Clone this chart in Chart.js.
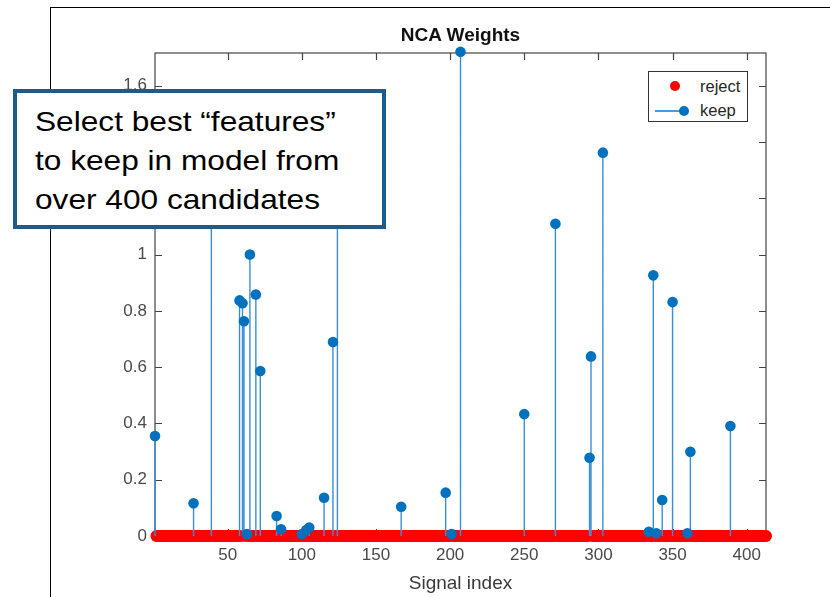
<!DOCTYPE html>
<html>
<head>
<meta charset="utf-8">
<script src="https://cdn.jsdelivr.net/npm/chart.js@4.4.1/dist/chart.umd.min.js"></script>
<style>
  html, body { margin: 0; padding: 0; background: #fff; }
  body { width: 830px; height: 597px; position: relative; overflow: hidden; font-family: 'Liberation Sans', Arial, sans-serif; }
  #frame { position: absolute; left: 50px; top: 7px; width: 800px; height: 620px; border-left: 1.5px solid #000; border-top: 1.5px solid #000; box-sizing: border-box; }
  #wrap { position: absolute; left: 0; top: 0; width: 830px; height: 597px; }
  #title { position: absolute; left: 300px; width: 321px; top: 23px; text-align: center; font-weight: bold; font-size: 19px; color: #111; line-height: 24px; }
  #legend { position: absolute; left: 648px; top: 71px; width: 100px; height: 51px; box-sizing: border-box; border: 1px solid #333; background: #fff; }
  .lg-row { position: absolute; left: 0; width: 100%; height: 20px; }
  .lg-dot { position: absolute; width: 10px; height: 10px; border-radius: 50%; }
  .lg-line { position: absolute; height: 1.5px; background: #4d9ad6; }
  .lg-text { position: absolute; left: 51px; font-size: 16.5px; line-height: 20px; color: #262626; }
  #note { position: absolute; left: 13px; top: 89px; width: 373px; height: 140px; box-sizing: border-box; border: 4px solid #1d5b8a; background: #fff; }
  #note .txt { position: absolute; left: 18px; top: 9px; font-size: 28px; line-height: 39px; color: #000; transform: scaleX(1.13); transform-origin: left top; white-space: nowrap; }
</style>
</head>
<body>
<div id="frame"></div>
<div id="wrap"><canvas id="c" width="830" height="597"></canvas></div>
<div id="title">NCA Weights</div>
<div id="legend">
  <div class="lg-row" style="top:4px;">
    <div class="lg-dot" style="left:21px; top:5px; background:#ff0000;"></div>
    <div class="lg-text">reject</div>
  </div>
  <div class="lg-row" style="top:28px;">
    <div class="lg-line" style="left:6px; top:10px; width:28px;"></div>
    <div class="lg-dot" style="left:29.5px; top:5.5px; background:#0072BD;"></div>
    <div class="lg-text">keep</div>
  </div>
</div>
<div id="note"><div class="txt">Select best “features”<br>to keep in model from<br>over 400 candidates</div></div>
<script>
// ---- data ----
const signalCount = 413;
const keepIndex  = [1, 27, 39, 58, 60, 61, 63, 65, 69, 72, 83, 86, 100, 103, 105, 115, 121, 124, 167, 197, 201, 207, 250, 271, 294, 295, 303, 334, 337, 339, 343, 350, 360, 362, 389];
const keepWeight = [0.355, 0.116, 1.42, 0.837, 0.827, 0.763, 0.007, 1.0, 0.858, 0.586, 0.071, 0.024, 0.007, 0.021, 0.030, 0.136, 0.689, 1.28, 0.104, 0.154, 0.007, 1.72, 0.433, 1.109, 0.278, 0.638, 1.362, 0.015, 0.926, 0.010, 0.128, 0.831, 0.010, 0.299, 0.391];
const xTicks = [50, 100, 150, 200, 250, 300, 350, 400];
const xTickLabels = ['50', '100', '150', '200', '250', '300', '350', '400'];
const yTicks = [0, 0.2, 0.4, 0.6, 0.8, 1.0, 1.2, 1.4, 1.6];
const yTickLabels = ['0', '0.2', '0.4', '0.6', '0.8', '1', '1.2', '1.4', '1.6'];
const xMin = 1, xMax = 413, yMin = 0, yMax = 1.716;

// rejected signals: every index not kept, weight 0
const rejectPoints = [];
for (let i = 1; i <= signalCount; i++) {
  if (keepIndex.indexOf(i) < 0) rejectPoints.push({ x: i, y: 0 });
}
const keepPoints = keepIndex.map((x, k) => ({ x: x, y: keepWeight[k] }));
const stemPoints = [];
keepIndex.forEach((x, k) => {
  stemPoints.push({ x: x, y: 0 });
  stemPoints.push({ x: x, y: keepWeight[k] });
  stemPoints.push({ x: x, y: null });
});

const FONT = "'Liberation Sans', Arial, sans-serif";

const boxPlugin = {
  id: 'boxTicks',
  beforeDatasetsDraw(chart) {
    const { ctx, chartArea: a, scales } = chart;
    ctx.save();
    ctx.strokeStyle = '#444';
    ctx.lineWidth = 1.2;
    ctx.beginPath();
    const tl = 7;
    xTicks.forEach(v => {
      const px = Math.round(scales.x.getPixelForValue(v)) + 0.5;
      ctx.moveTo(px, a.bottom); ctx.lineTo(px, a.bottom - tl);
      ctx.moveTo(px, a.top); ctx.lineTo(px, a.top + tl);
    });
    yTicks.forEach(v => {
      const py = Math.round(scales.y.getPixelForValue(v)) + 0.5;
      ctx.moveTo(a.left, py); ctx.lineTo(a.left + tl, py);
      ctx.moveTo(a.right, py); ctx.lineTo(a.right - tl, py);
    });
    ctx.stroke();
    ctx.strokeRect(a.left, a.top, a.right - a.left, a.bottom - a.top);
    ctx.restore();
  }
};

new Chart(document.getElementById('c'), {
  type: 'scatter',
  data: {
    datasets: [
      {
        label: 'keep',
        type: 'scatter',
        data: keepPoints,
        pointRadius: 5.3,
        pointHoverRadius: 5.3,
        backgroundColor: '#0072BD',
        borderWidth: 0,
        order: 0,
        clip: false
      },
      {
        label: 'stems',
        type: 'line',
        data: stemPoints,
        borderColor: '#3a8fd3',
        borderWidth: 1.4,
        pointRadius: 0,
        spanGaps: false,
        fill: false,
        order: 1,
        clip: false
      },
      {
        label: 'reject',
        type: 'scatter',
        data: rejectPoints,
        pointRadius: 6,
        pointHoverRadius: 6,
        backgroundColor: '#ff0000',
        borderWidth: 0,
        order: 2,
        clip: false
      }
    ]
  },
  options: {
    responsive: false,
    animation: false,
    events: [],
    layout: { padding: { left: 0, top: 53, right: 64, bottom: 0 } },
    plugins: { legend: { display: false }, tooltip: { enabled: false }, title: { display: false } },
    scales: {
      x: {
        type: 'linear', min: xMin, max: xMax, offset: false,
        grid: { display: false, drawTicks: false },
        border: { display: false },
        afterBuildTicks: s => { s.ticks = xTicks.map(v => ({ value: v })); },
        afterFit: s => { s.height = 61; },
        ticks: {
          padding: 9,
          color: '#4a4a4a',
          font: { family: FONT, size: 17 },
          autoSkip: false, maxRotation: 0,
          callback: (v) => { const k = xTicks.indexOf(v); return k >= 0 ? xTickLabels[k] : ''; }
        },
        title: { display: true, text: 'Signal index', color: '#3a3a3a', font: { family: FONT, size: 19 }, padding: { top: 0, bottom: 2 } }
      },
      y: {
        type: 'linear', min: yMin, max: yMax,
        grid: { display: false, drawTicks: false },
        border: { display: false },
        afterBuildTicks: s => { s.ticks = yTicks.map(v => ({ value: v })); },
        afterFit: s => { s.width = 155; },
        ticks: {
          padding: 8,
          color: '#4a4a4a',
          font: { family: FONT, size: 17 },
          autoSkip: false,
          callback: (v) => { const k = yTicks.findIndex(t => Math.abs(t - v) < 1e-9); return k >= 0 ? yTickLabels[k] : ''; }
        }
      }
    }
  },
  plugins: [boxPlugin]
});
</script>
</body>
</html>
